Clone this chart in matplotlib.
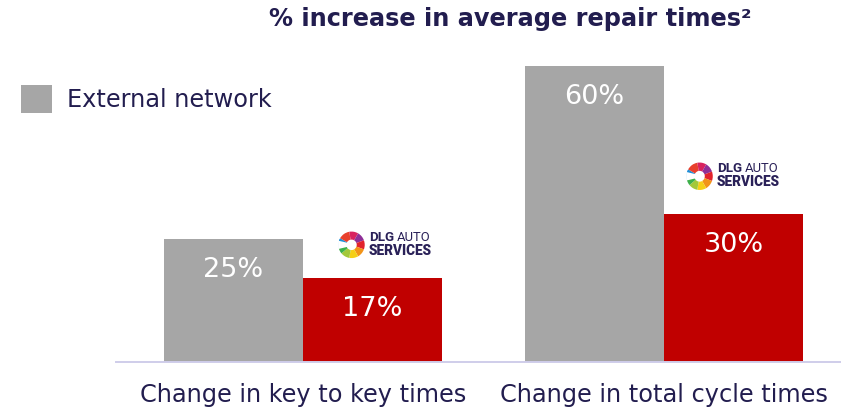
import matplotlib
matplotlib.use("Agg")
import matplotlib.pyplot as plt
from matplotlib.patches import Wedge, Polygon
import numpy as np

# ---- data ----
categories = ["Change in key to key times", "Change in total cycle times"]
external_network = [25, 60]
dlg_auto_services = [17, 30]
series_label = "External network"
title_text = "% increase in average repair times\u00b2"

NAVY = "#221d4f"
GREY = "#a6a6a6"
RED = "#c00000"

W, H = 841, 411
fig = plt.figure(figsize=(W / 100, H / 100), dpi=100)
ax = fig.add_axes([116 / W, (H - 362) / H, 1 - 116 / W, (362 - 66) / H])

x = np.arange(len(categories))
bw = 0.385
bars_ext = ax.bar(x - bw / 2, external_network, width=bw, color=GREY, label=series_label)
bars_dlg = ax.bar(x + bw / 2, dlg_auto_services, width=bw, color=RED)

ax.set_xlim(-0.518, 1.49)
ax.set_ylim(0, 60)

for bars, vals in ((bars_ext, external_network), (bars_dlg, dlg_auto_services)):
    for b, v in zip(bars, vals):
        ax.annotate(f"{v}%", (b.get_x() + b.get_width() / 2, v),
                    xytext=(0, -22.5), textcoords="offset points",
                    ha="center", va="center", color="white",
                    fontsize=19.5, family="DejaVu Sans")

for s in ("top", "right", "left"):
    ax.spines[s].set_visible(False)
ax.spines["bottom"].set_color("#cfcdea")
ax.spines["bottom"].set_linewidth(1.4)
ax.set_yticks([])
ax.set_xticks(x)
ax.set_xticklabels(categories, fontsize=17.3, color=NAVY)
ax.tick_params(axis="x", length=0, pad=15)

fig.text(510 / W, 1 - 19 / H, title_text, ha="center", va="center",
         fontsize=17.3, fontweight="bold", color=NAVY)

leg = fig.legend(handles=[bars_ext], labels=[series_label],
                 loc="center left", bbox_to_anchor=(21 / W, 1 - 99 / H),
                 frameon=False, fontsize=17.3, handlelength=1.3, handleheight=1.45,
                 handletextpad=0.62, borderpad=0, borderaxespad=0)
for t in leg.get_texts():
    t.set_color(NAVY)


def draw_logo(x0, x1, y0, y1):
    lax = ax.inset_axes([x0, y0, x1 - x0, y1 - y0], transform=ax.transData)
    lax.set_xlim(0, 94)
    lax.set_ylim(0, 28)
    lax.axis("off")
    cx, cy, r = 13.5, 14, 13.2
    ring = [
        (150, 195, "#1e8fd8"),
        (100, 150, "#e8402d"),
        (60, 100, "#d8235f"),
        (20, 60, "#8e2f97"),
        (-20, 20, "#e2232c"),
        (-60, -20, "#f29419"),
        (-100, -60, "#f5cf17"),
        (-140, -100, "#a3c83a"),
        (-165, -140, "#3db04b"),
        (-205, -165, "#1e8fd8"),
    ]
    for a0, a1, c in ring:
        lax.add_patch(Wedge((cx, cy), r, a0, a1, width=8.0, color=c, lw=0))
    # white arrow notch coming from the left
    lax.add_patch(Polygon([[0, cy + 4.2], [cx + 4.5, cy], [0, cy - 4.2]],
                          closed=True, color="white", lw=0))
    lax.text(31, 21, "DLG", fontsize=9.6, fontweight="bold", family="Roboto",
             color="#2a2158", va="center", ha="left")
    lax.text(58.5, 21, "AUTO", fontsize=9.4, fontweight="normal", family="Roboto",
             color="#2a2158", va="center", ha="left")
    lax.text(30.5, 8, "SERVICES", fontsize=9.8, fontweight="black", family="Roboto",
             color="#2a2158", va="center", ha="left")


draw_logo(0.097, 0.357, 20.9, 26.6)
draw_logo(1.061, 1.321, 34.7, 40.6)

fig.savefig("out.png", dpi=100)
